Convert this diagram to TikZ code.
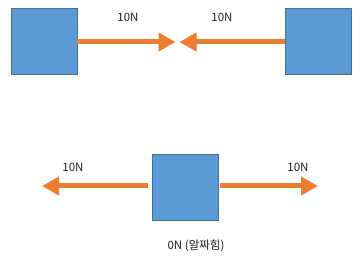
\documentclass[tikz,border=0pt]{standalone}
\usepackage{fontspec}
\setmainfont{Noto Sans CJK KR}
\usetikzlibrary{arrows.meta}
\definecolor{boxfill}{HTML}{5B9BD5}
\definecolor{boxline}{HTML}{41719C}
\definecolor{force}{HTML}{ED7D31}
\definecolor{txt}{HTML}{202020}
\begin{document}
\begin{tikzpicture}[x=1pt,y=-1pt,
  block/.style={draw=boxline,fill=boxfill,line width=0.9pt,minimum size=66pt,inner sep=0pt},
  forcearrow/.style={draw=force,line width=5pt,-{Triangle[length=17pt,width=18pt]}},
  lab/.style={font=\fontsize{11.5}{13}\selectfont,text=txt,inner sep=0pt}]
\useasboundingbox (0,0) rectangle (362,259);
% top
\node[block] (b1) at (44,41) {};
\node[block] (b2) at (318,41) {};
\coordinate (t1) at (175.5,42);
\coordinate (t2) at (179.5,42);
\draw[forcearrow] (b1.east |- t1) -- (t1);
\draw[forcearrow] (b2.west |- t2) -- (t2);
\node[lab] (l1) at (128,17) {10N};
\node[lab] (l2) at (222,17) {10N};
% bottom
\node[block] (b3) at (185,187) {};
\coordinate (s3) at (148,186);
\coordinate (t3) at (42,186);
\coordinate (s4) at (220,186);
\coordinate (t4) at (318,186);
\draw[forcearrow] (s3) -- (t3);
\draw[forcearrow] (s4) -- (t4);
\node[lab] (l3) at (73,167) {10N};
\node[lab] (l4) at (298,167) {10N};
\node[lab] (l5) at (196,246) {0N (알짜힘)};
\end{tikzpicture}
\end{document}
